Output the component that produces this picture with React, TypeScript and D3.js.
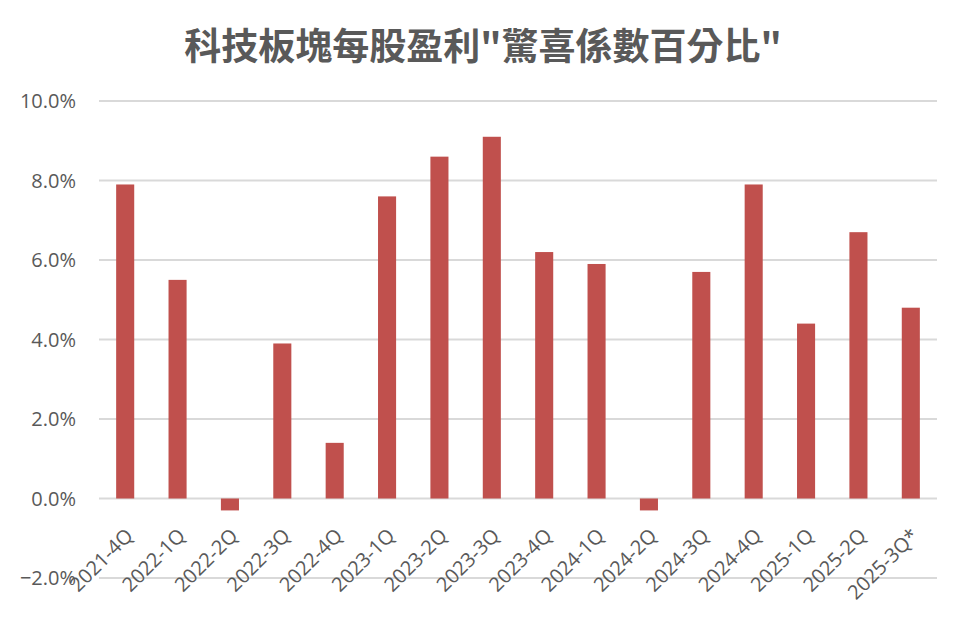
import React from "react";
import * as d3 from "d3";

const categories = [
  "2021-4Q", "2022-1Q", "2022-2Q", "2022-3Q", "2022-4Q", "2023-1Q", "2023-2Q", "2023-3Q",
  "2023-4Q", "2024-1Q", "2024-2Q", "2024-3Q", "2024-4Q", "2025-1Q", "2025-2Q", "2025-3Q*",
];
const surprisePct = [7.9, 5.5, -0.3, 3.9, 1.4, 7.6, 8.6, 9.1, 6.2, 5.9, -0.3, 5.7, 7.9, 4.4, 6.7, 4.8];
const yTicks = [-2, 0, 2, 4, 6, 8, 10];
const title = '科技板塊每股盈利"驚喜係數百分比"';

const W = 968;
const H = 619;
const plotLeft = 99;
const plotRight = 937;
const plotTop = 101;
const plotBottom = 578;
const textColor = "#595959";
const barColor = "#C0504D";
const gridColor = "#D9D9D9";
const font = "'Open Sans', 'Liberation Sans', sans-serif";

export default function App() {
  const x = d3
    .scaleBand<string>()
    .domain(categories)
    .range([plotLeft, plotRight])
    .paddingInner(0.655)
    .paddingOuter(0.3275);
  const y = d3.scaleLinear().domain([-2, 10]).range([plotBottom, plotTop]);
  const fmt = d3.format(".1f");

  return (
    <svg
      width={W}
      height={H}
      style={{ position: "absolute", left: 0, top: 0, background: "#fff" }}
    >
      <rect x={0} y={0} width={W} height={H} fill="#fff" />
      <text
        x={483}
        y={60}
        textAnchor="middle"
        fontFamily="'Noto Sans CJK TC', 'Noto Sans CJK SC', sans-serif"
        fontWeight="bold"
        fontSize={37}
        fill={textColor}
      >
        {title}
      </text>
      {yTicks.map((t) => (
        <g key={t}>
          <line
            x1={plotLeft}
            x2={plotRight}
            y1={y(t)}
            y2={y(t)}
            stroke={gridColor}
            strokeWidth={2}
          />
          <text
            x={76}
            y={y(t)}
            dy="0.36em"
            textAnchor="end"
            fontFamily={font}
            fontSize={20}
            fill={textColor}
          >
            {fmt(t) + "%"}
          </text>
        </g>
      ))}
      {categories.map((c, i) => {
        const v = surprisePct[i];
        const y0 = y(0);
        const yv = y(v);
        return (
          <rect
            key={c}
            x={x(c)}
            width={x.bandwidth()}
            y={Math.min(y0, yv)}
            height={Math.abs(yv - y0)}
            fill={barColor}
          />
        );
      })}
      {categories.map((c) => {
        const cx = (x(c) as number) + x.bandwidth() / 2;
        const px = cx + 9;
        const py = 537;
        return (
          <text
            key={"l" + c}
            x={px}
            y={py}
            textAnchor="end"
            transform={`rotate(-45 ${px} ${py})`}
            fontFamily={font}
            fontSize={20}
            fill={textColor}
          >
            {c}
          </text>
        );
      })}
    </svg>
  );
}
